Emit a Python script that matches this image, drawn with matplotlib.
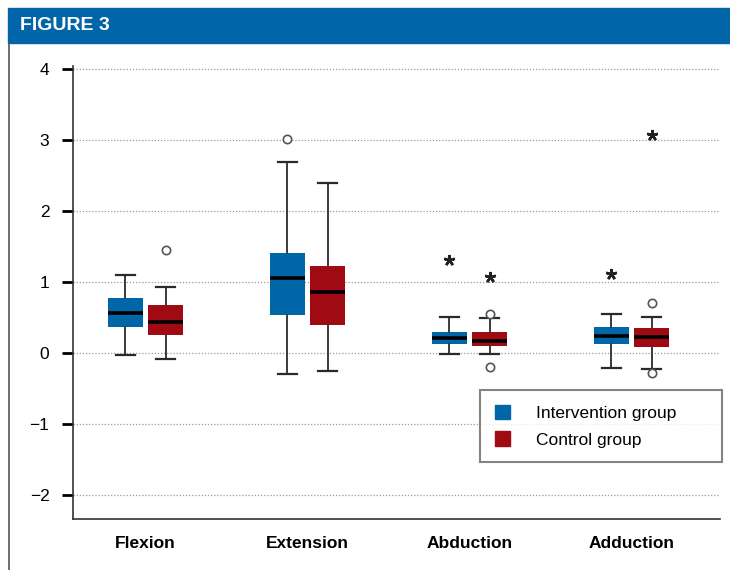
import matplotlib
matplotlib.use("Agg")
import matplotlib.pyplot as plt
from matplotlib.patches import Rectangle, Patch
from matplotlib.lines import Line2D

plt.rcParams['font.family'] = ['Liberation Sans', 'DejaVu Sans']

# Dati
categorie = ["Flexion", "Extension", "Abduction", "Adduction"]
gruppi = ["Intervention group", "Control group"]

int_whislo = [-0.03, -0.29, -0.01, -0.21]
int_q1 = [0.36, 0.53, 0.13, 0.12]
int_med = [0.56, 1.05, 0.21, 0.24]
int_q3 = [0.77, 1.41, 0.30, 0.37]
int_whishi = [1.10, 2.69, 0.51, 0.55]
int_outliers = [[], [3.02], [], []]
int_extremes = [[], [], [1.31], [1.11]]

ctr_whislo = [-0.08, -0.25, -0.01, -0.23]
ctr_q1 = [0.25, 0.40, 0.10, 0.09]
ctr_med = [0.44, 0.86, 0.17, 0.22]
ctr_q3 = [0.68, 1.23, 0.30, 0.35]
ctr_whishi = [0.93, 2.40, 0.49, 0.51]
ctr_outliers = [[1.45], [], [0.55, -0.20], [0.71, -0.28]]
ctr_extremes = [[], [], [1.07], [3.07]]

y_ticks = [4, 3, 2, 1, 0, -1, -2]
y_labels = ["4", "3", "2", "1", "0", "\u22121", "\u22122"]

blu = "#0066a8"
rosso = "#a00a12"

fig = plt.figure(figsize=(7.3, 5.7), dpi=100)

# Intestazione "FIGURE 3"
fig.patches.append(Rectangle((8 / 730, 1 - 43 / 570), 1, 35 / 570,
                             transform=fig.transFigure, color=blu, zorder=0))
fig.text(20 / 730, 1 - 26 / 570, "FIGURE 3", color="white", fontsize=14,
         fontweight="bold", va="center", ha="left", fontstretch="condensed")
fig.add_artist(Line2D([8.5 / 730, 8.5 / 730], [0, 1 - 43 / 570],
                      transform=fig.transFigure, color="#555555", lw=1.2))

ax = fig.add_axes([73 / 730, 1 - 519 / 570, (720 - 73) / 730, (519 - 65.5) / 570])


def statistiche(whislo, q1, med, q3, whishi, outliers):
    stats = []
    for i in range(len(categorie)):
        stats.append(dict(whislo=whislo[i], q1=q1[i], med=med[i], q3=q3[i],
                          whishi=whishi[i], fliers=outliers[i]))
    return stats


offset = 0.125
larghezza = 0.216
for stats, colore, sgn, extremes in [
        (statistiche(int_whislo, int_q1, int_med, int_q3, int_whishi, int_outliers), blu, -1, int_extremes),
        (statistiche(ctr_whislo, ctr_q1, ctr_med, ctr_q3, ctr_whishi, ctr_outliers), rosso, 1, ctr_extremes)]:
    pos = [i + sgn * offset for i in range(len(categorie))]
    ax.bxp(stats, positions=pos, widths=larghezza, patch_artist=True,
           showfliers=True, manage_ticks=False,
           boxprops=dict(facecolor=colore, edgecolor=colore, linewidth=0),
           medianprops=dict(color="black", linewidth=2.6, solid_capstyle="butt"),
           whiskerprops=dict(color="#3a3a3a", linewidth=1.4),
           capprops=dict(color="#2a2a2a", linewidth=1.6),
           capwidths=larghezza * 0.55,
           flierprops=dict(marker="o", markerfacecolor="white",
                           markeredgecolor="#555555", markersize=6,
                           markeredgewidth=1.2))
    for i, valori in enumerate(extremes):
        if valori:
            ax.plot([pos[i]] * len(valori), valori, linestyle="none",
                    marker=(5, 2, 0), markersize=8, markeredgewidth=1.8,
                    color="#222222")

ax.set_xlim(-0.4475, 3.546)
ax.set_ylim(-2.34, 4.05)
ax.set_yticks(y_ticks)
ax.set_yticklabels(y_labels, fontsize=12.5)
ax.set_xticks(range(len(categorie)))
ax.set_xticklabels(categorie, fontsize=12.5, fontweight="bold")
ax.tick_params(axis="y", length=8, width=2, direction="out", pad=9)
ax.tick_params(axis="x", length=0, pad=12)
ax.yaxis.grid(True, linestyle=(0, (1, 1.5)), color="#999999", linewidth=0.9)
ax.set_axisbelow(True)
for lato in ["top", "right"]:
    ax.spines[lato].set_visible(False)
ax.spines["left"].set_color("#333333")
ax.spines["bottom"].set_color("#333333")
ax.spines["left"].set_linewidth(1.2)
ax.spines["bottom"].set_linewidth(1.2)

maniglie = [Patch(facecolor=blu, edgecolor=blu), Patch(facecolor=rosso, edgecolor=rosso)]
leg = ax.legend(maniglie, gruppi, loc="upper left", mode="expand",
                bbox_to_anchor=(480 / 730, 1 - 390 / 570, 242 / 730, 0),
                bbox_transform=fig.transFigure,
                fontsize=12.5, frameon=True, fancybox=False, handlelength=0.9,
                handleheight=0.9, handletextpad=1.45, borderpad=0.85,
                labelspacing=0.6, borderaxespad=0)
leg.get_frame().set_edgecolor("#666666")
leg.get_frame().set_linewidth(1.5)

fig.savefig("out.png", dpi=100)
